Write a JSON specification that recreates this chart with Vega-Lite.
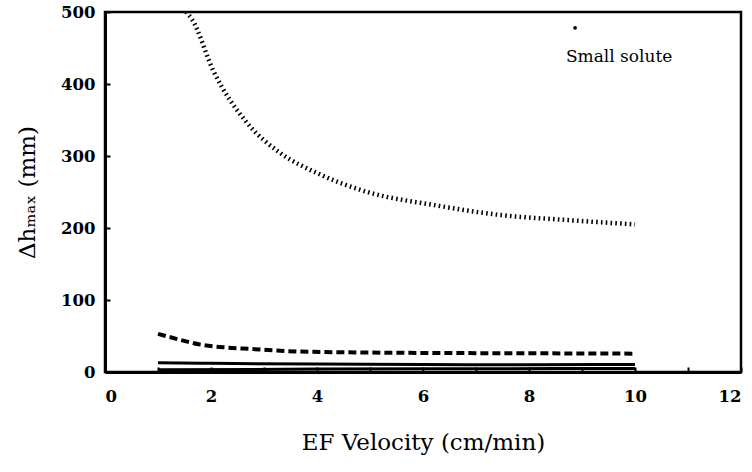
{
  "$schema": "https://vega.github.io/schema/vega-lite/v6.json",
  "width": 636,
  "height": 360,
  "autosize": {"type": "none"},
  "padding": {"left": 105, "top": 12, "right": 11, "bottom": 100},
  "background": "white",
  "config": {
    "view": {"stroke": null},
    "axis": {
      "domainColor": "black",
      "domainWidth": 3,
      "tickColor": "black",
      "tickWidth": 2,
      "tickSize": -5,
      "grid": false,
      "labelFont": "DejaVu Serif",
      "labelFontWeight": "bold",
      "labelFontSize": 16.5,
      "labelColor": "black",
      "titleFont": "DejaVu Serif",
      "titleFontWeight": "normal",
      "titleFontSize": 23,
      "titleColor": "black"
    }
  },
  "datasets": {
    "curves": [
      {"series": "dotted", "v": 1.53, "h": 500},
      {"series": "dotted", "v": 1.64, "h": 490},
      {"series": "dotted", "v": 2.04, "h": 419},
      {"series": "dotted", "v": 2.68, "h": 346},
      {"series": "dotted", "v": 3.31, "h": 304},
      {"series": "dotted", "v": 4.01, "h": 276},
      {"series": "dotted", "v": 4.95, "h": 250},
      {"series": "dotted", "v": 6.2, "h": 232},
      {"series": "dotted", "v": 7.47, "h": 218},
      {"series": "dotted", "v": 8.73, "h": 211},
      {"series": "dotted", "v": 10, "h": 205},
      {"series": "dashed", "v": 1, "h": 53},
      {"series": "dashed", "v": 1.4, "h": 45},
      {"series": "dashed", "v": 1.8, "h": 38},
      {"series": "dashed", "v": 2.3, "h": 34},
      {"series": "dashed", "v": 2.74, "h": 32},
      {"series": "dashed", "v": 3.63, "h": 28.5},
      {"series": "dashed", "v": 5, "h": 27},
      {"series": "dashed", "v": 6, "h": 26.5},
      {"series": "dashed", "v": 8, "h": 26},
      {"series": "dashed", "v": 10, "h": 25.5},
      {"series": "solid1", "v": 1, "h": 13},
      {"series": "solid1", "v": 2, "h": 12},
      {"series": "solid1", "v": 4, "h": 11},
      {"series": "solid1", "v": 6, "h": 10.5},
      {"series": "solid1", "v": 8, "h": 10},
      {"series": "solid1", "v": 10, "h": 10.5},
      {"series": "solid2", "v": 1, "h": 3},
      {"series": "solid2", "v": 4, "h": 4},
      {"series": "solid2", "v": 7, "h": 4.5},
      {"series": "solid2", "v": 10, "h": 5}
    ],
    "frame": [{"x0": 0, "x1": 12, "y0": 0, "y1": 500}],
    "dot": [{"v": 8.87, "h": 478}],
    "label": [{"v": 9.7, "h": 437, "text": "Small solute"}]
  },
  "layer": [
    {
      "data": {"name": "curves"},
      "transform": [{"filter": "datum.series === 'dotted'"}],
      "mark": {"type": "line", "color": "black", "strokeWidth": 4.5, "strokeDash": [1.6, 3.2], "interpolate": "monotone", "clip": true},
      "encoding": {
        "x": {"field": "v", "type": "quantitative", "scale": {"domain": [0, 12], "nice": false},
          "axis": {"title": "EF Velocity (cm/min)", "values": [0,1,2,3,4,5,6,7,8,9,10,11,12], "labelExpr": "datum.value % 2 == 0 ? datum.label : ''", "labelPadding": 21, "titlePadding": 27}},
        "y": {"field": "h", "type": "quantitative", "scale": {"domain": [0, 500], "nice": false},
          "axis": {"title": "Δhₘₐₓ (mm)", "values": [0,50,100,150,200,250,300,350,400,450,500], "labelExpr": "datum.value % 100 == 0 ? datum.label : ''", "labelPadding": 15, "titlePadding": 21}}
      }
    },
    {
      "data": {"name": "frame"},
      "mark": {"type": "rect", "fill": null, "fillOpacity": 0, "stroke": "black", "strokeWidth": 2.5},
      "encoding": {
        "x": {"field": "x0", "type": "quantitative"},
        "x2": {"field": "x1"},
        "y": {"field": "y0", "type": "quantitative"},
        "y2": {"field": "y1"}
      }
    },
    {
      "data": {"name": "curves"},
      "transform": [{"filter": "datum.series === 'dashed'"}],
      "mark": {"type": "line", "color": "black", "strokeWidth": 4, "strokeDash": [8, 4], "interpolate": "monotone"},
      "encoding": {"x": {"field": "v", "type": "quantitative"}, "y": {"field": "h", "type": "quantitative"}}
    },
    {
      "data": {"name": "curves"},
      "transform": [{"filter": "datum.series === 'solid1'"}],
      "mark": {"type": "line", "color": "black", "strokeWidth": 3, "interpolate": "monotone"},
      "encoding": {"x": {"field": "v", "type": "quantitative"}, "y": {"field": "h", "type": "quantitative"}}
    },
    {
      "data": {"name": "curves"},
      "transform": [{"filter": "datum.series === 'solid2'"}],
      "mark": {"type": "line", "color": "black", "strokeWidth": 3, "interpolate": "monotone"},
      "encoding": {"x": {"field": "v", "type": "quantitative"}, "y": {"field": "h", "type": "quantitative"}}
    },
    {
      "data": {"name": "dot"},
      "mark": {"type": "point", "filled": true, "color": "black", "size": 14, "opacity": 1},
      "encoding": {"x": {"field": "v", "type": "quantitative"}, "y": {"field": "h", "type": "quantitative"}}
    },
    {
      "data": {"name": "label"},
      "mark": {"type": "text", "font": "DejaVu Serif", "fontSize": 17, "color": "black", "align": "center", "baseline": "middle"},
      "encoding": {"x": {"field": "v", "type": "quantitative"}, "y": {"field": "h", "type": "quantitative"}, "text": {"field": "text"}}
    }
  ]
}
